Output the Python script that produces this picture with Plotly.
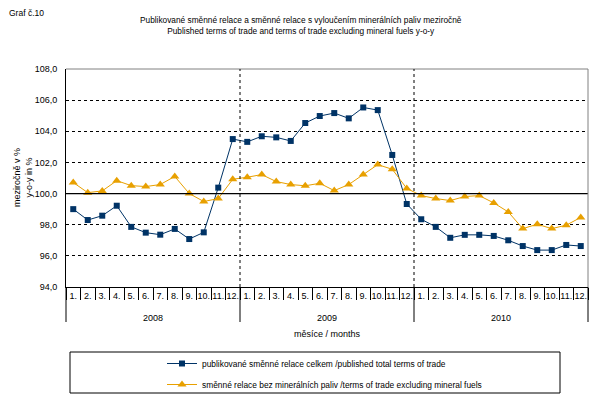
import plotly.graph_objects as go
import numpy as np

years = ["2008", "2009", "2010"]
months = ["1.", "2.", "3.", "4.", "5.", "6.", "7.", "8.", "9.", "10.", "11.", "12."]

total_tot = [99.0, 98.3, 98.58, 99.22, 97.86, 97.49, 97.36, 97.73, 97.08, 97.51, 100.38, 103.5,
             103.32, 103.68, 103.61, 103.38, 104.53, 104.98, 105.17, 104.83, 105.53, 105.36, 102.48, 99.33,
             98.35, 97.86, 97.16, 97.35, 97.35, 97.28, 97.0, 96.63, 96.37, 96.37, 96.7, 96.63]
excl_fuels = [100.71, 100.06, 100.17, 100.83, 100.51, 100.45, 100.58, 101.1, 100.0, 99.49, 99.68, 100.92,
              101.05, 101.22, 100.77, 100.58, 100.5, 100.66, 100.19, 100.58, 101.22, 101.86, 101.56, 100.33,
              99.87, 99.68, 99.55, 99.81, 99.87, 99.4, 98.82, 97.75, 98.03, 97.75, 97.97, 98.47]

name_total = "publikované směnné relace celkem /published total terms of trade"
name_excl = "směnné relace bez minerálních paliv /terms of trade excluding mineral fuels"
title_lines = ["Publikované směnné relace a směnné relace s vyloučením minerálních paliv meziročně",
               "Published terms of trade and terms of trade excluding mineral fuels y-o-y"]

FONT = "Liberation Sans, Arial, sans-serif"
BLUE = "#003366"
ORANGE = "#E8A000"
DASH = "3px,3px"

n = len(years) * len(months)
xpos = np.arange(n) + 0.5
month_labels = months * len(years)

fig = go.Figure()
fig.add_trace(go.Scatter(x=xpos, y=total_tot, name=name_total, mode="lines+markers",
                         line=dict(color=BLUE, width=1),
                         marker=dict(symbol="square", size=6, color=BLUE),
                         legendgroup="a"))
fig.add_trace(go.Scatter(x=xpos, y=excl_fuels, name=name_excl, mode="lines+markers",
                         line=dict(color=ORANGE, width=1),
                         marker=dict(symbol="triangle-up", size=8, color=ORANGE),
                         legendgroup="b"))

# page offset (browser body margin)
OFF = 8
PW, PH = 602, 412
L, R, T, B = 66, 588, 69, 287  # page px of plot area
W, H = R - L, B - T

def py(px):
    return (B - px) / H

def px_x(px):
    return (px - L) / W

shapes = []
shapes.append(dict(type="line", xref="paper", yref="y", x0=0, x1=1, y0=100, y1=100,
                   line=dict(color="black", width=1.3)))
shapes.append(dict(type="line", xref="paper", yref="paper", x0=0, x1=1, y0=1, y1=1,
                   line=dict(color="#808080", width=1)))
shapes.append(dict(type="line", xref="paper", yref="paper", x0=1, x1=1, y0=0, y1=1,
                   line=dict(color="#808080", width=1)))
for k in range(1, len(years)):
    xb = k * len(months) / n
    shapes.append(dict(type="line", xref="paper", yref="paper", x0=xb, x1=xb, y0=0, y1=1,
                       line=dict(color="black", width=1, dash=DASH)))
for k in range(0, len(years) + 1):
    xb = k * len(months) / n
    shapes.append(dict(type="line", xref="paper", yref="paper", x0=xb, x1=xb, y0=0, y1=py(322),
                       line=dict(color="black", width=1)))
shapes.append(dict(type="rect", xref="paper", yref="paper", x0=px_x(70), x1=px_x(560),
                   y0=py(393), y1=py(352), line=dict(color="black", width=1)))

annotations = []
for k, yr in enumerate(years):
    annotations.append(dict(x=k * len(months) + len(months) / 2, xref="x", y=py(318), yref="paper",
                            text=yr, showarrow=False, xanchor="center", yanchor="middle",
                            font=dict(size=9, family=FONT, color="black")))
annotations.append(dict(x=0.5, xref="paper", y=py(334), yref="paper", text="měsíce / months",
                        showarrow=False, xanchor="center", yanchor="middle",
                        font=dict(size=9, family=FONT, color="black")))
annotations.append(dict(x=px_x(23), xref="paper", y=py(178), yref="paper", textangle=-90,
                        text="meziročně v %<br>y-o-y in %", showarrow=False,
                        xanchor="center", yanchor="middle",
                        font=dict(size=9, family=FONT, color="black")))
annotations.append(dict(x=px_x(7), xref="paper", xanchor="left", y=py(13), yref="paper",
                        yanchor="middle", text="Graf č.10", showarrow=False,
                        font=dict(size=8.5, family=FONT, color="black")))
annotations.append(dict(x=px_x(301), xref="paper", xanchor="center", y=py(26), yref="paper",
                        yanchor="middle", text="<br>".join(title_lines), showarrow=False,
                        font=dict(size=8.3, family=FONT, color="black")))

fig.update_layout(
    width=PW - OFF, height=PH - OFF,
    margin=dict(l=L - OFF, r=PW - R, t=T - OFF, b=PH - B, autoexpand=False),
    paper_bgcolor="white", plot_bgcolor="white",
    font=dict(family=FONT, size=9, color="black"),
    separators=", ",
    showlegend=True,
    legend=dict(x=px_x(162), y=py(349), xanchor="left", yanchor="top",
                bgcolor="rgba(0,0,0,0)", borderwidth=0, tracegroupgap=2,
                font=dict(size=8.4, family=FONT, color="black"), itemwidth=30),
    shapes=shapes,
    annotations=annotations,
    xaxis=dict(range=[0, n], tickmode="array", tickvals=list(xpos), ticktext=month_labels,
               tickangle=0, automargin=False,
               ticks="", showgrid=False, zeroline=False, showline=True, linecolor="black",
               linewidth=1, tickfont=dict(size=9, family=FONT, color="black"),
               minor=dict(tickmode="linear", tick0=0, dtick=1, ticks="outside", ticklen=12,
                          tickcolor="black", tickwidth=1, showgrid=False),
               fixedrange=True),
    yaxis=dict(range=[94, 108], dtick=2, tickformat=".1f", showgrid=True, gridcolor="black",
               griddash=DASH, gridwidth=1, zeroline=False, showline=True, linecolor="black",
               linewidth=1, ticks="", ticklabelstandoff=6, automargin=False,
               tickfont=dict(size=9, family=FONT, color="black"), fixedrange=True),
)

fig.write_html("out.html")
